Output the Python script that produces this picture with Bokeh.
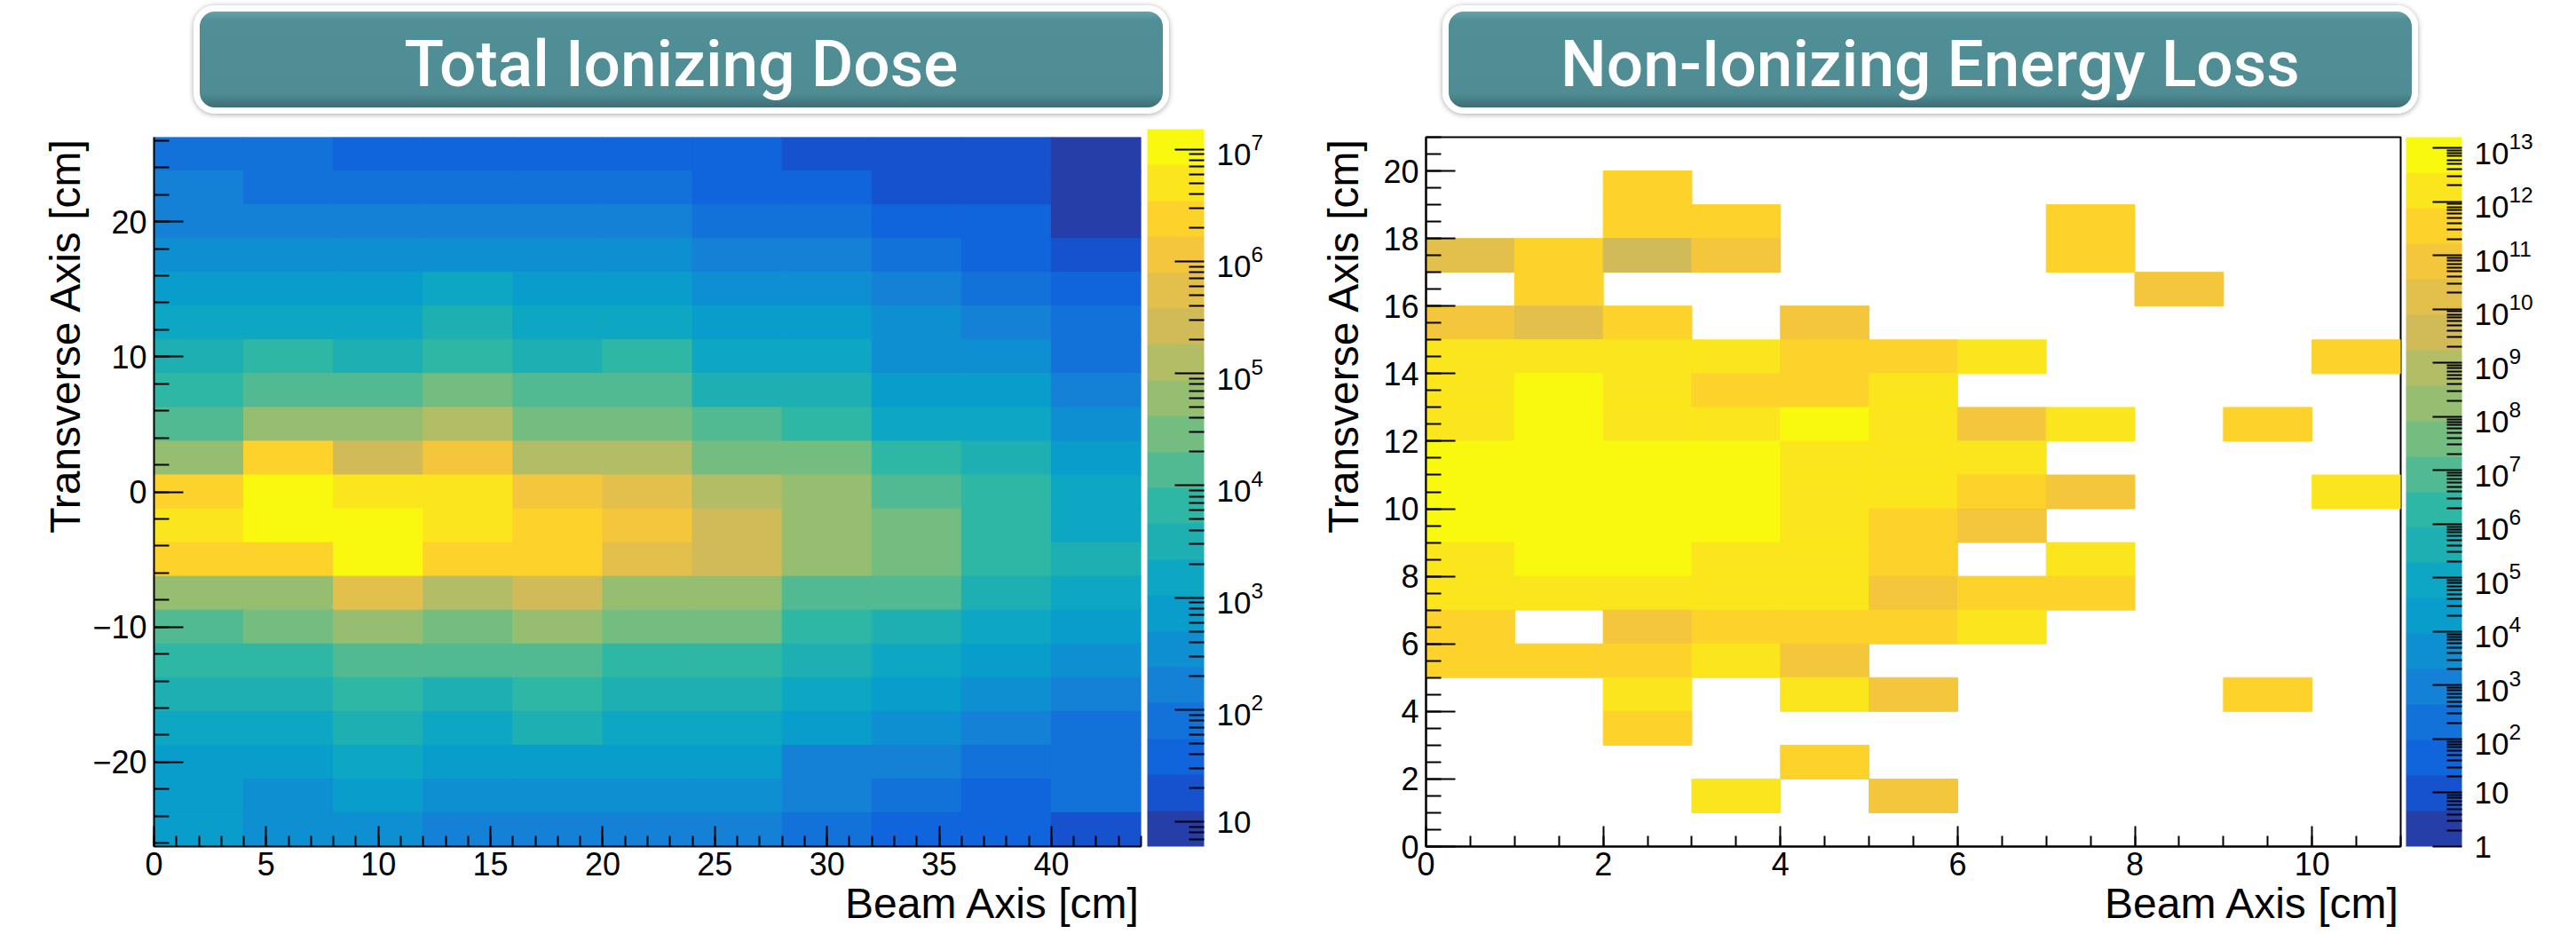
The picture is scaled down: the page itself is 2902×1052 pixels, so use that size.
import numpy as np
from bokeh.plotting import figure
from bokeh.models import (ColorBar, LogColorMapper, FixedTicker, LogTickFormatter,
                          SingleIntervalTicker, CustomJSTickFormatter, Title, Div,
                          ColumnDataSource, Range1d)
from bokeh.layouts import column, row
from bokeh.embed import file_html
from bokeh.resources import INLINE

# ------------------------------------------------------------------ data
tid_title = "Total Ionizing Dose"
niel_title = "Non-Ionizing Energy Loss"
x_label = "Beam Axis [cm]"
y_label = "Transverse Axis [cm]"

# Total ionizing dose: 11 beam-axis bins (0..44 cm), 21 transverse bins (-26.25..26.25 cm)
tid_x_edges = [0, 4, 8, 12, 16, 20, 24, 28, 32, 36, 40, 44]
tid_y_range = (-26.25, 26.25)
tid_z_range = (6.03, 1.51e7)
tid_cb_ticks = [1e1, 1e2, 1e3, 1e4, 1e5, 1e6, 1e7]
# rows listed from the top (y = +25) to the bottom (y = -25)
tid_rows = [
    [80, 80, 38, 38, 38, 38, 38, 18, 18, 18, 8.7],
    [170, 80, 80, 80, 80, 80, 38, 38, 18, 18, 8.7],
    [170, 170, 170, 170, 170, 170, 80, 80, 38, 38, 8.7],
    [350, 350, 350, 350, 350, 350, 170, 170, 80, 38, 18],
    [720, 720, 720, 1.5e3, 720, 720, 350, 350, 170, 80, 38],
    [1.5e3, 1.5e3, 1.5e3, 3.2e3, 1.5e3, 1.5e3, 720, 720, 350, 170, 80],
    [3.2e3, 6.6e3, 3.2e3, 6.6e3, 3.2e3, 6.6e3, 1.5e3, 1.5e3, 350, 350, 80],
    [6.6e3, 1.4e4, 1.4e4, 2.9e4, 1.4e4, 1.4e4, 3.2e3, 3.2e3, 720, 720, 170],
    [1.4e4, 6.0e4, 6.0e4, 1.3e5, 2.9e4, 2.9e4, 1.4e4, 6.6e3, 1.5e3, 1.5e3, 350],
    [6.0e4, 2.4e6, 2.6e5, 1.15e6, 1.3e5, 1.3e5, 2.9e4, 2.9e4, 6.6e3, 3.2e3, 720],
    [2.4e6, 1.05e7, 5.0e6, 5.0e6, 1.15e6, 5.5e5, 1.3e5, 6.0e4, 1.4e4, 6.6e3, 1.5e3],
    [5.0e6, 1.05e7, 1.05e7, 5.0e6, 2.4e6, 1.15e6, 2.6e5, 6.0e4, 2.9e4, 6.6e3, 1.5e3],
    [2.4e6, 2.4e6, 1.05e7, 2.4e6, 2.4e6, 5.5e5, 2.6e5, 6.0e4, 2.9e4, 6.6e3, 3.2e3],
    [6.0e4, 6.0e4, 5.5e5, 1.3e5, 2.6e5, 6.0e4, 6.0e4, 1.4e4, 1.4e4, 3.2e3, 1.5e3],
    [1.4e4, 2.9e4, 6.0e4, 2.9e4, 6.0e4, 2.9e4, 2.9e4, 6.6e3, 3.2e3, 1.5e3, 720],
    [6.6e3, 6.6e3, 1.4e4, 1.4e4, 1.4e4, 6.6e3, 6.6e3, 3.2e3, 1.5e3, 720, 350],
    [3.2e3, 3.2e3, 6.6e3, 3.2e3, 6.6e3, 3.2e3, 3.2e3, 1.5e3, 720, 350, 170],
    [1.5e3, 1.5e3, 3.2e3, 1.5e3, 3.2e3, 1.5e3, 1.5e3, 720, 350, 170, 80],
    [720, 720, 1.5e3, 720, 720, 720, 720, 170, 170, 80, 80],
    [720, 350, 720, 350, 350, 350, 350, 170, 80, 38, 80],
    [720, 350, 350, 170, 170, 170, 170, 80, 38, 38, 18],
]

# Non-ionizing energy loss: 11 beam-axis bins (0..11 cm), 21 transverse bins (0..21 cm); 0 = empty
niel_x_edges = [0, 1, 2, 3, 4, 5, 6, 7, 8, 9, 10, 11]
niel_y_range = (0.0, 21.0)
niel_z_range = (1.0, 1.585e13)
niel_cb_ticks = [1e0, 1e1, 1e2, 1e3, 1e4, 1e5, 1e6, 1e7, 1e8, 1e9, 1e10, 1e11, 1e12, 1e13]
# rows listed from the top (y = 20..21) to the bottom (y = 0..1)
niel_rows = [
    [0, 0, 0, 0, 0, 0, 0, 0, 0, 0, 0],
    [0, 0, 3.5e11, 0, 0, 0, 0, 0, 0, 0, 0],
    [0, 0, 3.5e11, 3.5e11, 0, 0, 0, 3.5e11, 0, 0, 0],
    [1.7e10, 3.5e11, 3.7e9, 7.8e10, 0, 0, 0, 3.5e11, 0, 0, 0],
    [0, 3.5e11, 0, 0, 0, 0, 0, 0, 7.8e10, 0, 0],
    [7.8e10, 1.7e10, 3.5e11, 0, 7.8e10, 0, 0, 0, 0, 0, 0],
    [1.6e12, 1.6e12, 1.6e12, 1.6e12, 3.5e11, 3.5e11, 1.6e12, 0, 0, 0, 3.5e11],
    [1.6e12, 7.4e12, 1.6e12, 3.5e11, 3.5e11, 1.6e12, 0, 0, 0, 0, 0],
    [1.6e12, 7.4e12, 1.6e12, 1.6e12, 7.4e12, 1.6e12, 7.8e10, 1.6e12, 0, 3.5e11, 0],
    [7.4e12, 7.4e12, 7.4e12, 7.4e12, 1.6e12, 1.6e12, 1.6e12, 0, 0, 0, 0],
    [7.4e12, 7.4e12, 7.4e12, 7.4e12, 1.6e12, 1.6e12, 3.5e11, 7.8e10, 0, 0, 1.6e12],
    [7.4e12, 7.4e12, 7.4e12, 7.4e12, 1.6e12, 3.5e11, 7.8e10, 0, 0, 0, 0],
    [1.6e12, 7.4e12, 7.4e12, 1.6e12, 1.6e12, 3.5e11, 0, 1.6e12, 0, 0, 0],
    [1.6e12, 1.6e12, 1.6e12, 1.6e12, 1.6e12, 7.8e10, 3.5e11, 3.5e11, 0, 0, 0],
    [3.5e11, 0, 7.8e10, 3.5e11, 3.5e11, 3.5e11, 1.6e12, 0, 0, 0, 0],
    [3.5e11, 3.5e11, 3.5e11, 1.6e12, 7.8e10, 0, 0, 0, 0, 0, 0],
    [0, 0, 1.6e12, 0, 1.6e12, 7.8e10, 0, 0, 0, 3.5e11, 0],
    [0, 0, 3.5e11, 0, 0, 0, 0, 0, 0, 0, 0],
    [0, 0, 0, 0, 3.5e11, 0, 0, 0, 0, 0, 0],
    [0, 0, 0, 1.6e12, 0, 7.8e10, 0, 0, 0, 0, 0],
    [0, 0, 0, 0, 0, 0, 0, 0, 0, 0, 0],
]

N_CONTOURS = 20

# ------------------------------------------------------------------ palette (ROOT kBird, 20 contours)
def kbird_palette(n_levels):
    stops = [0.0, 0.125, 0.25, 0.375, 0.5, 0.625, 0.75, 0.875, 1.0]
    red = [0.2082, 0.0592, 0.0780, 0.0232, 0.1802, 0.5301, 0.8186, 0.9956, 0.9764]
    green = [0.1664, 0.3599, 0.5041, 0.6419, 0.7178, 0.7492, 0.7328, 0.7862, 0.9832]
    blue = [0.5293, 0.8684, 0.8385, 0.7914, 0.6425, 0.4662, 0.3499, 0.1968, 0.0539]
    ncol = 255
    table = []
    for g in range(1, len(stops)):
        n = int(np.floor(ncol * stops[g]) - np.floor(ncol * stops[g - 1]))
        for c in range(n):
            t = c / n
            rgb = [a[g - 1] + (a[g] - a[g - 1]) * t for a in (red, green, blue)]
            table.append("#%02x%02x%02x" % tuple(int(round(v * 255)) for v in rgb))
    out = []
    for i in range(n_levels):
        idx = min(int(0.01 + (i + 0.99) * ncol / n_levels), ncol - 1)
        out.append(table[idx])
    return out

PALETTE = kbird_palette(N_CONTOURS)

FONT = "Liberation Sans"
TICK_SIZE = "36px"
CB_TICK_SIZE = "35px"
TITLE_SIZE = "48px"


def cells(x_edges, y_range, rows):
    ny = len(rows)
    dy = (y_range[1] - y_range[0]) / ny
    d = dict(left=[], right=[], bottom=[], top=[], value=[])
    for r, vals in enumerate(rows):
        top = y_range[1] - r * dy
        for c, v in enumerate(vals):
            if v <= 0:
                continue
            d["left"].append(x_edges[c])
            d["right"].append(x_edges[c + 1])
            d["bottom"].append(top - dy)
            d["top"].append(top)
            d["value"].append(v)
    return ColumnDataSource(d)


def minor_log_ticks(lo, hi):
    out = []
    for k in range(-1, 15):
        for m in range(2, 10):
            t = m * 10.0 ** k
            if lo <= t <= hi:
                out.append(t)
    return out


def make_panel(x_edges, y_range, z_range, rows, cb_ticks, width, height, border,
               frame_h, xtick, ytick, ylab_std, ytitle_std, framed, cb_w, cb_gap):
    fig = figure(width=width, height=height,
                 x_range=Range1d(x_edges[0], x_edges[-1]),
                 y_range=Range1d(*y_range),
                 output_backend="svg", toolbar_location=None,
                 min_border_left=border[0], min_border_right=border[1],
                 min_border_top=border[2], min_border_bottom=border[3],
                 background_fill_color="white", border_fill_color="white",
                 outline_line_color="black" if framed else None,
                 outline_line_width=2)
    fig.xgrid.visible = False
    fig.ygrid.visible = False

    mapper = LogColorMapper(palette=PALETTE, low=z_range[0], high=z_range[1])
    src = cells(x_edges, y_range, rows)
    cmap = {"field": "value", "transform": mapper}
    fig.quad(left="left", right="right", bottom="bottom", top="top", source=src,
             fill_color=cmap, line_color=cmap, line_width=1)

    fig.xaxis.ticker = SingleIntervalTicker(interval=xtick[0], num_minor_ticks=xtick[1])
    fig.yaxis.ticker = SingleIntervalTicker(interval=ytick[0], num_minor_ticks=ytick[1])
    fig.yaxis.formatter = CustomJSTickFormatter(
        code="return tick < 0 ? '\u2212' + String(-tick) : String(tick);")
    for ax in (fig.xaxis[0], fig.yaxis[0]):
        ax.axis_line_color = "black"
        ax.axis_line_width = 2
        ax.major_tick_line_color = "black"
        ax.major_tick_line_width = 2
        ax.minor_tick_line_color = "black"
        ax.minor_tick_line_width = 2
        ax.major_tick_out = 0
        ax.minor_tick_out = 0
        ax.major_label_text_font = FONT
        ax.major_label_text_font_size = TICK_SIZE
        ax.major_label_text_color = "black"
    fig.xaxis.major_tick_in = 23
    fig.xaxis.minor_tick_in = 12
    fig.xaxis.major_label_standoff = 6
    fig.yaxis.major_tick_in = 33
    fig.yaxis.minor_tick_in = 17
    fig.yaxis.major_label_standoff = ylab_std

    # axis titles, right-aligned at the end of each axis (ROOT style)
    fig.add_layout(Title(text=x_label, align="right", standoff=0, offset=0,
                         text_font=FONT, text_font_size=TITLE_SIZE,
                         text_font_style="normal", text_color="black"), "below")
    fig.add_layout(Title(text=y_label, align="right", standoff=ytitle_std, offset=0,
                         text_font=FONT, text_font_size=TITLE_SIZE,
                         text_font_style="normal", text_color="black"), "left")

    cb = ColorBar(color_mapper=mapper, location=(cb_gap, 0), width=cb_w, height=frame_h,
                  padding=0, margin=0,
                  ticker=FixedTicker(ticks=cb_ticks,
                                     minor_ticks=minor_log_ticks(z_range[0], z_range[1])),
                  formatter=LogTickFormatter(min_exponent=2),
                  major_tick_in=33, major_tick_out=0, minor_tick_in=17, minor_tick_out=0,
                  major_tick_line_color="black", major_tick_line_width=2,
                  minor_tick_line_color="black", minor_tick_line_width=2,
                  major_label_text_font=FONT, major_label_text_font_size=CB_TICK_SIZE,
                  major_label_text_color="black", label_standoff=14,
                  bar_line_color=None, border_line_color=None, background_fill_color=None)
    fig.add_layout(cb, "right")
    return fig


p1 = make_panel(tid_x_edges, tid_y_range, tid_z_range, tid_rows, tid_cb_ticks,
                width=1450, height=912, border=(173, 165, 6, 98), frame_h=808,
                xtick=(5, 5), ytick=(10, 5), ylab_std=8, ytitle_std=4,
                framed=False, cb_w=64, cb_gap=7)
p2 = make_panel(niel_x_edges, niel_y_range, niel_z_range, niel_rows, niel_cb_ticks,
                width=1452, height=912, border=(156, 198, 14, 99), frame_h=799,
                xtick=(2, 4), ytick=(2, 4), ylab_std=8, ytitle_std=32,
                framed=True, cb_w=63, cb_gap=6)

box = ("position:absolute;top:6px;height:122px;width:1099px;box-sizing:border-box;"
       "border:7px solid #ffffff;border-radius:24px;"
       "background:linear-gradient(to bottom,#62a4a9 0%,#518f96 9%,#4f8c93 86%,#3c6d73 100%);"
       "box-shadow:0 1px 6px rgba(0,0,0,0.35);display:flex;align-items:center;justify-content:center;")
txt = ("font-family:Roboto,'Noto Sans',sans-serif;font-weight:500;font-size:73px;color:#ffffff;"
       "line-height:1;margin-top:10px;white-space:nowrap;")
html = ('<div style="position:relative;width:2902px;height:140px;margin:0;padding:0;">'
        f'<div style="{box}left:218px;"><span style="{txt}">{tid_title}</span></div>'
        f'<div style="{box}left:1625px;"><span style="{txt}">{niel_title}</span></div>'
        '</div>')
titles = Div(text=html, width=2902, height=140, margin=(0, 0, 0, 0))

layout = column(titles, row(p1, p2), spacing=0)
open("out.html", "w").write(file_html(layout, INLINE, "TID and NIEL maps"))
